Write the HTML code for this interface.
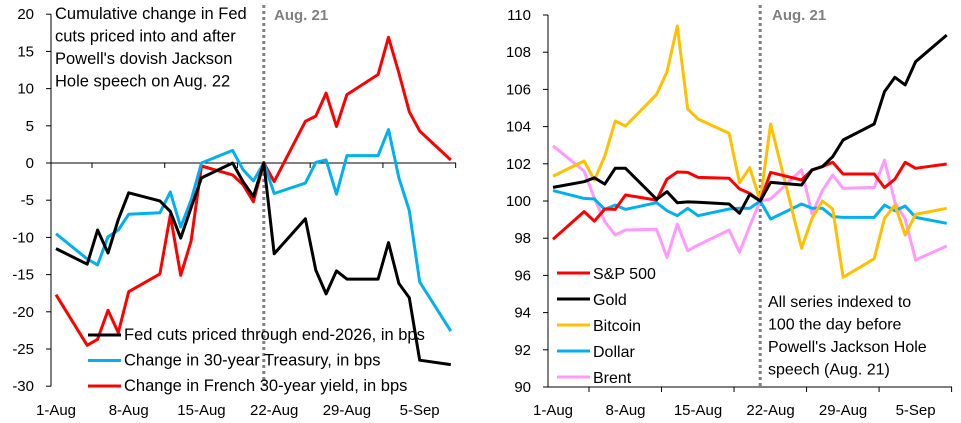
<!DOCTYPE html>
<html><head><meta charset="utf-8"><style>
html,body{margin:0;padding:0;background:#fff;}
svg{display:block;font-family:"Liberation Sans",sans-serif;}
</style></head><body>
<svg id="c" width="961" height="423" xmlns="http://www.w3.org/2000/svg"></svg>
<script>
const days=[0,3,4,5,6,7,10,11,12,13,14,17,18,19,20,21,24,25,26,27,28,31,32,33,34,35,38];
const xTickLabels=["1-Aug","8-Aug","15-Aug","22-Aug","29-Aug","5-Sep"];
const leftTicks=[20,15,10,5,0,-5,-10,-15,-20,-25,-30];
const rightTicks=[110,108,106,104,102,100,98,96,94,92,90];
const fedCuts=[-11.5,-13.6,-9,-12.1,-7.6,-4.0,-5.1,-6.5,-10.1,-6,-2.0,0,-2.5,-4.5,0,-12.2,-7.5,-14.4,-17.6,-14.5,-15.6,-15.6,-10.7,-16.2,-18.1,-26.5,-27.1];
const treasury=[-9.5,-12.9,-13.7,-9.9,-9.0,-6.9,-6.7,-3.9,-8.6,-5,0,1.7,-0.9,-2.4,0,-4.1,-2.7,0.1,0.4,-4.2,1.0,1.0,4.5,-2.0,-6.4,-16.0,-22.6];
const french=[-17.7,-24.5,-23.7,-19.8,-22.8,-17.3,-14.9,-7.0,-15.1,-10.5,-0.4,-1.6,-2.9,-5.2,0,-2.5,5.6,6.3,9.4,4.9,9.2,11.9,16.9,12.1,6.9,4.3,0.4];
const sp500=[97.94,99.43,98.92,99.57,99.55,100.32,100.05,101.18,101.56,101.54,101.27,101.22,100.65,100.41,100,101.54,101.13,101.67,101.85,102.08,101.45,101.45,100.72,101.18,102.08,101.76,101.99];
const gold=[100.73,101.04,101.25,100.91,101.76,101.76,100.09,100.5,99.91,99.95,99.93,99.84,99.34,100.36,100,101.0,100.86,101.67,101.85,102.38,103.28,104.14,105.88,106.65,106.24,107.49,108.92];
const bitcoin=[101.34,102.15,101.13,102.42,104.3,104.03,105.73,106.95,109.41,104.95,104.41,103.64,100.99,101.79,100,104.14,97.46,99.07,100,99.57,95.9,96.9,99.07,99.78,98.17,99.28,99.61];
const dollar=[100.56,100.14,100.11,99.55,99.78,99.55,99.91,99.48,99.21,99.61,99.21,99.57,99.61,99.61,100,99.03,99.84,99.61,99.61,99.16,99.12,99.12,99.78,99.48,99.73,99.12,98.8];
const brent=[102.97,101.61,100.14,98.89,98.17,98.44,98.48,96.97,98.76,97.33,97.63,98.44,97.24,98.66,100,100.11,101.67,99.3,100.56,101.4,100.68,100.73,102.2,99.93,99.03,96.83,97.58];

const svg=document.getElementById('c');
const NS='http://www.w3.org/2000/svg';
function mk(tag,attrs,name,parent){const e=document.createElementNS(NS,tag);for(const k in attrs)e.setAttribute(k,attrs[k]);


(parent||svg).appendChild(e);return e;}
function txt(x,y,s,name,opts){const t=mk('text',Object.assign({x:x,y:y,'font-size':15,fill:'#000'},opts||{}),name);t.textContent=s;return t;}

const Lx=d=>56+d*10.39, Ly=v=>163-v*7.44;
const Rx=d=>553+d*10.36, Ry=v=>201-(v-100)*18.6;

mk('line',{x1:51,y1:Ly(20),x2:51,y2:Ly(-30),stroke:'#000','stroke-width':1},'left-y-axis');
leftTicks.forEach(v=>{mk('line',{x1:46,y1:Ly(v),x2:51,y2:Ly(v),stroke:'#000'},'left-y-tick');
txt(34,Ly(v)+5,String(v),'left-y-tick-label',{'text-anchor':'end'});});
mk('line',{x1:51,y1:163,x2:456,y2:163,stroke:'#000'},'left-x-axis');
xTickLabels.forEach((s,i)=>{const x=Lx(i*7);mk('line',{x1:x+36,y1:163,x2:x+36,y2:168,stroke:'#000'},'left-x-tick');
txt(x,415,s,'left-x-tick-label',{'text-anchor':'middle'});});
mk('line',{x1:548,y1:Ry(110),x2:548,y2:Ry(90),stroke:'#000'},'right-y-axis');
rightTicks.forEach(v=>{mk('line',{x1:543,y1:Ry(v),x2:548,y2:Ry(v),stroke:'#000'},'right-y-tick');
txt(531,Ry(v)+5,String(v),'right-y-tick-label',{'text-anchor':'end'});});
mk('line',{x1:548,y1:387,x2:952,y2:387,stroke:'#000'},'right-x-axis');
xTickLabels.forEach((s,i)=>{const x=Rx(i*7);mk('line',{x1:x+36,y1:387,x2:x+36,y2:392,stroke:'#000'},'right-x-tick');
txt(x,415,s,'right-x-tick-label',{'text-anchor':'middle'});});

mk('line',{x1:Lx(20),y1:5,x2:Lx(20),y2:388,stroke:'#808080','stroke-width':3,'stroke-dasharray':'3,3'},'left-aug21-marker');
mk('line',{x1:Rx(20),y1:5,x2:Rx(20),y2:388,stroke:'#808080','stroke-width':3,'stroke-dasharray':'3,3'},'right-aug21-marker');
txt(274,20,'Aug. 21','left-aug21-label',{fill:'#808080','font-weight':'bold','font-size':15});
txt(772,20,'Aug. 21','right-aug21-label',{fill:'#808080','font-weight':'bold','font-size':15});

function series(vals,xs,ys,color,name){const p=vals.map((v,i)=>xs(days[i]).toFixed(1)+','+ys(v).toFixed(1)).join(' ');
mk('polyline',{points:p,fill:'none',stroke:color,'stroke-width':3,'stroke-linejoin':'round'},name);}
series(french,Lx,Ly,'#ff0000','line-french-30y');
series(treasury,Lx,Ly,'#00b0f0','line-treasury-30y');
series(fedCuts,Lx,Ly,'#000000','line-fed-cuts');
series(brent,Rx,Ry,'#ff99ff','line-brent');
series(dollar,Rx,Ry,'#00b0f0','line-dollar');
series(bitcoin,Rx,Ry,'#ffc000','line-bitcoin');
series(sp500,Rx,Ry,'#ff0000','line-sp500');
series(gold,Rx,Ry,'#000000','line-gold');

['Cumulative change in Fed','cuts priced into and after',"Powell's dovish Jackson",'Hole speech on Aug. 22'].forEach((s,i)=>txt(55,19+i*22.5,s,'left-chart-title',{'font-size':16.5}));
[['Fed cuts priced through end-2026, in bps','#000'],['Change in 30-year Treasury, in bps','#00b0f0'],['Change in French 30-year yield, in bps','#ff0000']].forEach((l,i)=>{
const y=335+i*25.5;mk('line',{x1:88,y1:y,x2:121,y2:y,stroke:l[1],'stroke-width':3},'left-legend-swatch');
txt(124,y+5,l[0],'left-legend-label',{'font-size':16.5});});
[['S&P 500','#ff0000'],['Gold','#000'],['Bitcoin','#ffc000'],['Dollar','#00b0f0'],['Brent','#ff99ff']].forEach((l,i)=>{
const y=273+i*26;mk('line',{x1:557,y1:y,x2:590,y2:y,stroke:l[1],'stroke-width':3},'right-legend-swatch');
txt(593,y+6,l[0],'right-legend-label',{'font-size':16});});
['All series indexed to','100 the day before',"Powell's Jackson Hole",'speech (Aug. 21)'].forEach((s,i)=>txt(768,307+i*22.5,s,'right-chart-note',{'font-size':16}));
</script>
</body></html>
